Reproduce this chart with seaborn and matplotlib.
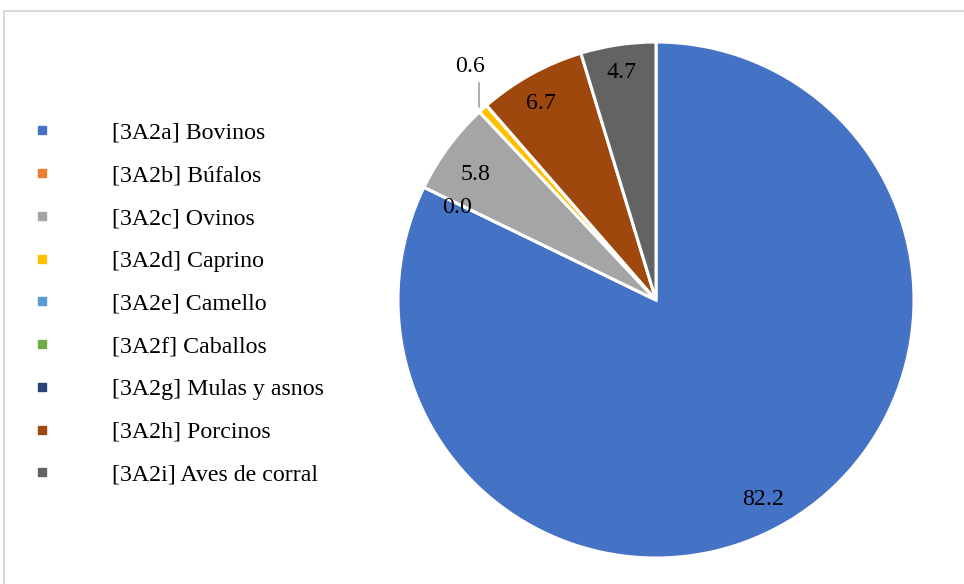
import numpy as np
import matplotlib
matplotlib.use("Agg")
import matplotlib.pyplot as plt
from matplotlib.lines import Line2D
from matplotlib.patches import Rectangle
import seaborn as sns

categories = [
    "[3A2a] Bovinos", "[3A2b] Búfalos", "[3A2c] Ovinos", "[3A2d] Caprino",
    "[3A2e] Camello", "[3A2f] Caballos", "[3A2g] Mulas y asnos",
    "[3A2h] Porcinos", "[3A2i] Aves de corral",
]
shares = [82.2, 0.0, 5.8, 0.6, 0.0, 0.0, 0.0, 6.7, 4.7]
# which slices carry a value label
show_label = [True, True, True, True, False, False, False, True, True]

colors = sns.color_palette([
    "#4472C4", "#ED7D31", "#A5A5A5", "#FFC000", "#5B9BD5",
    "#70AD47", "#264478", "#9E480E", "#636363",
])

sns.set_style("white")
plt.rcParams["font.family"] = ["Liberation Serif", "DejaVu Serif"]
plt.rcParams["text.color"] = "#000000"
FS = 17.2

W, H = 964, 584
fig = plt.figure(figsize=(W / 100, H / 100), dpi=100)

# chart frame
fig.patches.append(Rectangle((4 / W, -0.05), 1.1, (H - 11) / H + 0.05,
                             transform=fig.transFigure, fill=False,
                             edgecolor="#D9D9D9", linewidth=1.5))

cx, cy, r = 656, 300, 258
ax = fig.add_axes([(cx - r) / W, (H - cy - r) / H, 2 * r / W, 2 * r / H])

wedges, _ = ax.pie(shares, colors=colors, startangle=90, counterclock=False,
                   radius=1.0, wedgeprops=dict(edgecolor="white", linewidth=2.2))
ax.set_xlim(-1, 1)
ax.set_ylim(-1, 1)
ax.set_aspect("equal")
ax.axis("off")

# label placement: (radius, angle shift in degrees)
placement = {0: (0.87, -3.5), 1: (0.855, 0.3), 2: (0.86, 1.0),
             3: (1.165, -3.9), 7: (0.89, 1.0), 8: (0.9, 0.0)}
dy = -0.01

for i, w in enumerate(wedges):
    if not show_label[i]:
        continue
    mid = np.deg2rad((w.theta1 + w.theta2) / 2 + placement[i][1])
    rad = placement[i][0]
    x, y = rad * np.cos(mid), rad * np.sin(mid) + dy
    ax.text(x, y, f"{shares[i]:.1f}", ha="center", va="center", fontsize=FS,
            color="#000000")
    if rad > 1:
        mid0 = np.deg2rad((w.theta1 + w.theta2) / 2)
        ex, ey = np.cos(mid0), np.sin(mid0)
        ax.plot([ex - 0.015, ex - 0.015], [y - 0.065, ey + 0.005],
                color="#A6A6A6", linewidth=1.3, clip_on=False)

handles = [Line2D([0], [0], marker="s", linestyle="none", markersize=5.2,
                  markerfacecolor=c, markeredgecolor=c) for c in colors]
fig.legend(handles, categories, loc="upper left",
           bbox_to_anchor=(30 / W, 1 - 122 / H), frameon=False, fontsize=FS,
           handlelength=1.0, handletextpad=2.45, labelspacing=0.88,
           borderaxespad=0, borderpad=0, labelcolor="#000000")

fig.savefig("out.png", dpi=100)
